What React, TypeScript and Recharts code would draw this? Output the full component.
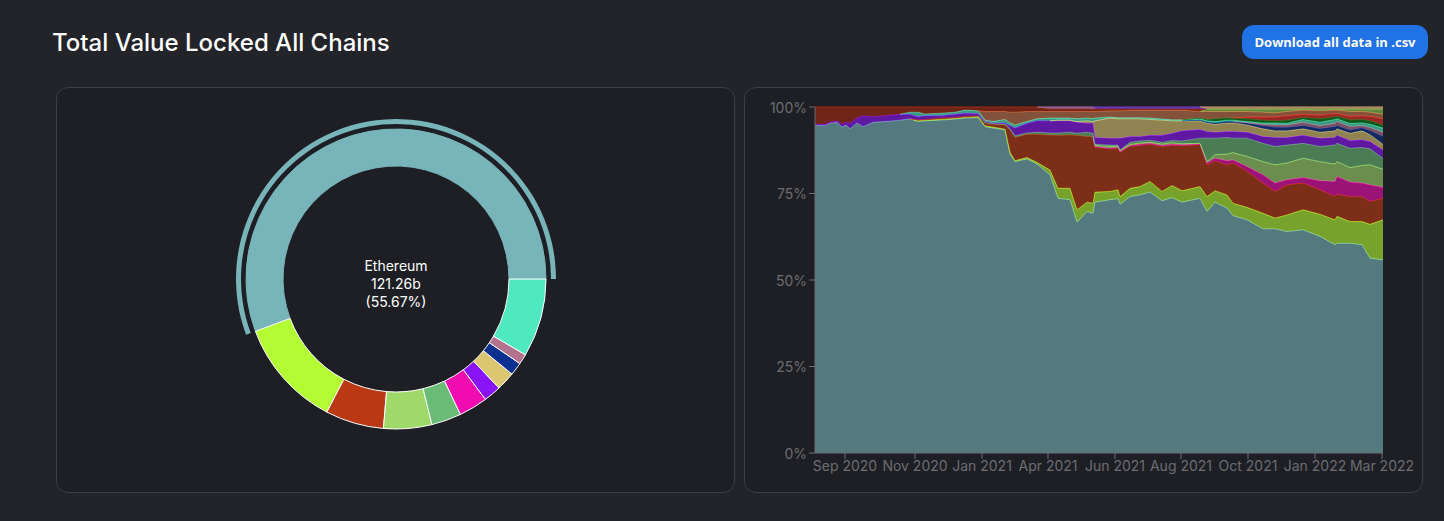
import React from "react";
import { Area, AreaChart, Pie, PieChart, XAxis, YAxis } from "recharts";

// donut: TVL per chain, billions
const pieNames = ["Ethereum", "Terra", "BSC", "Avalanche", "Solana", "Fantom", "Polygon", "Tron", "Arbitrum", "Cronos", "Others"];
const pieValues = [121.26, 25.5, 13.7, 11.3, 7.0, 6.75, 4.1, 4.4, 3.05, 2.4, 18.36];
const pieColors = ["#78b5ba", "#b3fb33", "#ba3813", "#9fd96a", "#6abb75", "#f00cb0", "#8a14f5", "#dcc770", "#0c3090", "#b3738f", "#50e8c0"];

// dominance chart: days since the first sample
const days = [
  0, 10, 15, 22, 27, 31, 35, 42, 48, 58,
  70, 85, 95, 103, 110, 125, 140, 150, 163, 170,
  178, 190, 195, 200, 212, 222, 235, 243, 255, 262,
  272, 278, 280, 295, 303, 305, 315, 325, 335, 347,
  357, 367, 385, 392, 400, 412, 418, 432, 448, 460,
  472, 488, 505, 520, 522, 535, 547, 555, 568,
];
const dayTicks = [30, 100, 167, 233, 300, 366, 433, 500, 567];
const dayTickLabels = ["Sep 2020", "Nov 2020", "Jan 2021", "Apr 2021", "Jun 2021", "Aug 2021", "Oct 2021", "Jan 2022", "Mar 2022"];
const percentTicks = [0, 25, 50, 75, 100];

// upper edge of each band in %, _ = band not there yet
const _ = null;
const ethereumTop = [
  94.8, 94.6, 95.3, 95.6, 94.2, 94.8, 93.7, 95.4, 94.3, 95.6,
  95.8, 96.2, 96.6, 95.8, 96.0, 96.2, 96.5, 96.8, 97.0, 94.3,
  93.9, 93.4, 86.4, 84.2, 85.0, 83.5, 80.4, 73.6, 73.2, 66.7,
  69.8, 69.3, 72.5, 73.2, 73.5, 71.9, 74.1, 74.6, 75.4, 72.9,
  73.8, 72.5, 73.6, 69.8, 72.5, 70.8, 68.6, 67.4, 64.8, 64.8,
  64.0, 64.5, 62.6, 60.2, 60.6, 60.6, 60.2, 56.3, 55.8,
];
const terraTop = [
  _, _, _, _, _, _, _, _, _, _,
  _, _, _, 96.0, 96.2, 96.4, 96.7, 97.0, 97.2, 94.6,
  94.2, 93.6, 86.9, 84.5, 85.4, 84.0, 81.8, 76.5, 76.5, 70.3,
  72.5, 72.2, 75.4, 75.6, 76.1, 74.1, 76.5, 77.0, 78.5, 75.6,
  77.3, 75.8, 77.0, 74.1, 75.8, 74.6, 72.2, 71.0, 69.3, 67.9,
  68.8, 70.3, 69.0, 67.4, 68.4, 66.9, 66.9, 66.1, 67.4,
];
const bscTop = [
  _, _, _, _, _, _, _, _, _, _,
  _, _, _, 96.3, 96.4, 96.8, 97.0, 97.3, 97.5, 95.4,
  95.0, 94.8, 93.4, 91.2, 92.1, 92.1, 91.9, 91.8, 91.9, 91.8,
  91.5, 91.5, 88.3, 87.9, 88.1, 86.9, 88.6, 88.9, 89.2, 88.6,
  88.9, 88.8, 89.1, 83.3, 84.4, 83.3, 83.8, 81.4, 78.0, 75.6,
  77.5, 78.0, 76.1, 74.1, 74.8, 74.1, 74.1, 72.7, 73.6,
];
const fantomTop = [
  _, _, _, _, _, _, _, _, _, _,
  _, _, _, _, _, _, _, _, _, _,
  _, _, _, _, _, _, _, _, _, _,
  _, _, 88.5, 88.1, 88.3, 87.1, 88.9, 89.2, 89.5, 88.9,
  89.2, 89.1, 89.3, 83.8, 85.2, 84.5, 84.7, 82.8, 80.4, 78.0,
  79.0, 79.6, 78.7, 78.5, 79.9, 78.3, 78.0, 77.5, 76.8,
];
const avalancheTop = [
  _, _, _, _, _, _, _, _, _, _,
  _, _, _, _, _, _, _, _, _, _,
  _, _, _, _, _, _, _, _, _, _,
  _, _, 88.9, 88.6, 88.6, 87.4, 89.2, 89.6, 89.8, 89.3,
  89.7, 89.4, 89.5, 84.2, 86.2, 86.4, 86.8, 85.7, 84.2, 83.3,
  83.8, 85.2, 84.2, 83.5, 84.2, 82.5, 83.1, 83.3, 82.0,
];
const solanaTop = [
  _, _, _, _, _, _, _, _, _, _,
  _, _, _, _, _, _, _, _, _, 95.6,
  95.2, 95.1, 93.7, 91.7, 92.5, 92.7, 92.5, 92.5, 92.7, 92.4,
  92.7, 92.4, 89.2, 89.0, 89.0, 87.6, 89.8, 90.2, 90.4, 89.8,
  90.3, 90.2, 91.0, 91.0, 91.0, 91.2, 91.0, 91.0, 89.5, 88.6,
  89.0, 89.5, 88.6, 89.0, 89.5, 88.1, 88.3, 87.9, 85.2,
];
const polygonTop = [
  95.0, 95.0, 95.6, 96.0, 95.0, 95.6, 95.3, 96.8, 97.5, 97.2,
  97.5, 97.9, 97.9, 97.2, 97.5, 97.5, 97.9, 98.2, 98.1, 95.8,
  95.4, 95.4, 94.6, 93.9, 95.3, 96.0, 96.0, 96.0, 96.0, 95.6,
  95.3, 95.3, 91.2, 91.0, 91.0, 91.0, 91.5, 91.5, 91.8, 91.8,
  92.4, 93.1, 93.5, 92.9, 92.7, 92.9, 92.9, 92.7, 91.5, 91.2,
  91.2, 91.8, 91.0, 91.2, 91.8, 90.3, 90.5, 90.0, 87.6,
];
const tronTop = [
  _, _, _, _, _, _, _, _, _, _,
  _, _, _, _, _, _, _, _, _, _,
  _, _, _, _, _, _, _, 96.2, 96.2, 95.8,
  96.0, 95.8, 96.0, 96.8, 96.6, 96.6, 96.6, 96.6, 96.4, 96.2,
  96.0, 96.0, 96.0, 95.3, 95.0, 95.4, 95.4, 94.8, 93.7, 93.1,
  93.1, 93.7, 92.7, 93.1, 93.7, 92.4, 93.1, 92.0, 89.2,
];
const arbitrumTop = [
  _, _, _, _, _, _, _, _, _, _,
  _, _, _, _, _, _, _, _, _, _,
  _, _, _, _, _, _, _, _, _, _,
  _, _, _, _, _, _, _, _, _, _,
  _, _, 96.2, 95.6, 95.4, 95.8, 95.8, 95.3, 94.5, 94.1,
  94.1, 94.6, 93.7, 94.3, 94.6, 93.3, 93.9, 93.1, 91.5,
];
const cronosTop = [
  _, _, _, _, _, _, _, _, _, _,
  _, _, _, _, _, _, _, _, _, _,
  _, _, _, _, _, _, _, _, _, _,
  _, _, _, _, _, _, _, _, _, _,
  _, _, _, _, _, _, _, 95.5, 95.0, 94.8,
  94.8, 95.6, 94.6, 95.3, 95.8, 94.4, 94.6, 94.1, 92.7,
];
const tealTop = [
  _, _, _, _, _, _, _, _, _, _,
  _, _, 98.5, 98.5, 98.0, 98.2, 98.5, 99.1, 98.9, 96.2,
  95.8, 96.4, 95.4, 94.8, 95.8, 96.6, 96.8, 96.8, 96.8, 96.6,
  96.8, 96.6, 96.8, 97.1, 96.9, 96.9, 96.9, 96.9, 96.8, 96.5,
  96.3, 96.3, 96.6, 96.0, 95.8, 96.2, 96.2, 95.8, 95.4, 95.4,
  95.3, 96.4, 95.6, 96.4, 96.6, 95.2, 95.4, 95.0, 93.9,
];
const darkGreenTop = [
  _, _, _, _, _, _, _, _, _, _,
  _, _, _, _, _, _, _, _, _, _,
  _, _, _, _, _, _, _, _, _, _,
  _, _, _, _, _, _, _, _, _, _,
  _, _, 96.8, 96.4, 96.6, 96.8, 96.8, 96.6, 96.2, 96.0,
  96.2, 97.0, 96.6, 97.1, 97.3, 96.3, 96.4, 96.0, 94.8,
];
const brightRedTop = [
  _, _, _, _, _, _, _, _, _, _,
  _, _, _, _, _, _, _, _, _, _,
  _, _, _, _, _, _, _, _, _, _,
  _, _, _, _, _, _, _, _, _, _,
  _, _, _, _, _, _, _, 97.1, 97.1, 97.1,
  97.5, 97.9, 97.7, 98.1, 98.1, 97.3, 97.5, 97.3, 96.6,
];
const brownTop = [
  _, _, _, _, _, _, _, _, _, _,
  _, _, _, _, _, _, _, _, _, 98.7,
  98.7, 98.7, 98.5, 98.5, 98.7, 98.7, 98.7, 98.7, 98.7, 98.7,
  98.7, 98.7, 98.7, 98.9, 98.9, 98.9, 99.0, 99.1, 99.1, 99.1,
  99.1, 99.1, 98.7, 98.7, 98.7, 98.7, 98.7, 98.7, 98.5, 98.3,
  98.7, 99.1, 98.9, 99.1, 99.1, 98.7, 98.7, 98.5, 97.9,
];
const limeTop = [
  _, _, _, _, _, _, _, _, _, _,
  _, _, _, _, _, _, _, _, _, _,
  _, _, _, _, _, _, _, _, _, _,
  _, _, _, _, _, _, _, _, _, _,
  _, _, _, 99.4, 99.4, 99.4, 99.4, 99.4, 99.4, 99.4,
  99.4, 99.4, 99.4, 99.4, 99.4, 99.4, 99.4, 99.4, 99.4,
];
const crimsonTop = [
  100, 100, 100, 100, 100, 100, 100, 100, 100, 100,
  100, 100, 100, 100, 100, 100, 100, 100, 100, 100,
  100, 100, 100, 100, 100, 100, 99.4, 99.4, 99.4, 99.4,
  99.4, 99.4, 99.4, 99.4, 99.4, 99.4, 99.4, 99.4, 99.4, 99.4,
  99.4, 99.4, 99.4, _, _, _, _, _, _, _,
  _, _, _, _, _, _, _, _, _,
];
const mauveCapTop = [
  _, _, _, _, _, _, _, _, _, _,
  _, _, _, _, _, _, _, _, _, _,
  _, _, _, _, _, _, 100, 100, 100, 100,
  100, 100, _, _, _, _, _, _, _, _,
  _, _, _, _, _, _, _, _, _, _,
  _, _, _, _, _, _, _, _, _,
];
const violetCapTop = [
  _, _, _, _, _, _, _, _, _, _,
  _, _, _, _, _, _, _, _, _, _,
  _, _, _, _, _, _, _, _, _, _,
  _, _, 100, 100, 100, 100, 100, 100, 100, 100,
  100, 100, 100, _, _, _, _, _, _, _,
  _, _, _, _, _, _, _, _, _,
];
const sandCapTop = [
  _, _, _, _, _, _, _, _, _, _,
  _, _, _, _, _, _, _, _, _, _,
  _, _, _, _, _, _, _, _, _, _,
  _, _, _, _, _, _, _, _, _, _,
  _, _, _, 100, 100, 100, 100, 100, 100, 100,
  100, 100, 100, 100, 100, 100, 100, 100, 100,
];

const bands = [
  { name: "Ethereum", color: "#78b7bc", tops: ethereumTop },
  { name: "Terra", color: "#b3fb33", tops: terraTop },
  { name: "BSC", color: "#ba3813", tops: bscTop },
  { name: "Fantom", color: "#f00cb0", tops: fantomTop },
  { name: "Avalanche", color: "#9fd96a", tops: avalancheTop },
  { name: "Solana", color: "#6abb75", tops: solanaTop },
  { name: "Polygon", color: "#8a14f5", tops: polygonTop },
  { name: "Tron", color: "#dcc770", tops: tronTop },
  { name: "Arbitrum", color: "#0c3090", tops: arbitrumTop },
  { name: "Cronos", color: "#b3738f", tops: cronosTop },
  { name: "Teal", color: "#50e8c0", tops: tealTop },
  { name: "DarkGreen", color: "#0f7a1a", tops: darkGreenTop },
  { name: "BrightRed", color: "#e8302a", tops: brightRedTop },
  { name: "Brown", color: "#c8744a", tops: brownTop },
  { name: "Lime", color: "#8fc850", tops: limeTop },
  { name: "Crimson", color: "#a52a10", tops: crimsonTop },
  { name: "MauveCap", color: "#b070a8", tops: mauveCapTop },
  { name: "VioletCap", color: "#7a3fd0", tops: violetCapTop },
  { name: "SandCap", color: "#d0a870", tops: sandCapTop },
];

// band shares per day; missing bands go null so they draw no stray edge line
const shares = bands.map(() => days.map(() => 0));
days.forEach((_day, i) => {
  let prev = 0;
  bands.forEach((band, b) => {
    const top = band.tops[i];
    if (top != null) {
      shares[b][i] = Math.max(0, +(top - prev).toFixed(2));
      prev = Math.max(prev, top);
    }
  });
});
const table = days.map((day, i) => {
  const row: Record<string, number | null> = { day };
  bands.forEach((band, b) => {
    const s = shares[b];
    row[band.name] = s[i] > 0 || s[i - 1] > 0 || s[i + 1] > 0 ? s[i] : null;
  });
  return row;
});

// the highlighted slice has no white outline
const pieData = pieNames.map((name, i) => ({ name, value: pieValues[i], fill: pieColors[i], stroke: i === 0 ? pieColors[0] : "#fff" }));
const restOfPie = pieValues.slice(1).reduce((a, b) => a + b, 0);
const ringData = [
  { name: "Ethereum", value: pieValues[0], fill: pieColors[0] },
  { name: "rest", value: restOfPie, fill: "transparent" },
];

const cardStyle: React.CSSProperties = {
  position: "absolute",
  top: 87,
  width: 679,
  height: 406,
  boxSizing: "border-box",
  border: "1px solid #3d3e43",
  borderRadius: 12,
  background: "#1e1f24",
};
const xTickStyle = { fill: "#6c6d72", fontSize: 14 };
const yTickStyle = { fill: "#6c6d72", fontSize: 14, dy: 1 };

export default function App() {
  return (
    <div style={{ position: "absolute", left: 0, top: 0, width: 1444, height: 521, background: "#22242a", fontFamily: "Inter", overflow: "hidden" }}>
      <div style={{ position: "absolute", left: 52, top: 28, fontSize: 24, fontWeight: 500, lineHeight: "30px", color: "#fff" }}>
        Total Value Locked All Chains
      </div>
      <div
        style={{
          position: "absolute",
          left: 1242,
          top: 25,
          width: 186,
          height: 34,
          borderRadius: 12,
          background: "#2172e5",
          color: "#fff",
          fontFamily: "Open Sans",
          fontWeight: 700,
          fontSize: 13,
          lineHeight: "35px",
          textAlign: "center",
        }}
      >
        Download all data in .csv
      </div>

      <div style={{ ...cardStyle, left: 56 }}>
        <div style={{ position: "absolute", left: -1, top: -1 }}>
          <PieChart width={679} height={406} margin={{ top: 0, right: 0, bottom: 0, left: 0 }}>
            <Pie
              data={pieData}
              dataKey="value"
              nameKey="name"
              cx={340}
              cy={192}
              innerRadius={113}
              outerRadius={150}
              strokeWidth={1}
              isAnimationActive={false}
            />
            <Pie
              data={ringData}
              dataKey="value"
              cx={340}
              cy={192}
              innerRadius={155}
              outerRadius={160}
              stroke="none"
              isAnimationActive={false}
            />
            <text x={340} y={184} textAnchor="middle" fill="#fff" fontSize={14}>
              {pieNames[0]}
            </text>
            <text x={340} y={202} textAnchor="middle" fill="#fff" fontSize={14}>
              {pieValues[0]}b
            </text>
            <text x={340} y={220} textAnchor="middle" fill="#fff" fontSize={14}>
              ({((pieValues[0] / (pieValues[0] + restOfPie)) * 100).toFixed(2)}%)
            </text>
          </PieChart>
        </div>
      </div>

      <div style={{ ...cardStyle, left: 744 }}>
        <div style={{ position: "absolute", left: -1, top: -1 }}>
          <AreaChart width={679} height={406} data={table} margin={{ top: 20, right: 40, bottom: 0, left: 0 }}>
            <XAxis
              dataKey="day"
              type="number"
              domain={[0, 568]}
              ticks={dayTicks}
              interval={0}
              height={40}
              tick={xTickStyle}
              tickSize={6}
              tickMargin={2}
              stroke="#6c6d72"
              tickFormatter={(d: number) => dayTickLabels[dayTicks.indexOf(d)]}
            />
            <YAxis
              type="number"
              domain={[0, 100]}
              ticks={percentTicks}
              width={71}
              tick={yTickStyle}
              tickSize={6}
              tickMargin={2}
              stroke="#6c6d72"
              tickFormatter={(v: number) => `${v}%`}
            />
            {bands.map((band) => (
              <Area
                key={band.name}
                dataKey={band.name}
                stackId="1"
                type="linear"
                stroke={band.color}
                strokeWidth={1}
                fill={band.color}
                fillOpacity={0.6}
                dot={false}
                activeDot={false}
                isAnimationActive={false}
              />
            ))}
          </AreaChart>
        </div>
      </div>
    </div>
  );
}
